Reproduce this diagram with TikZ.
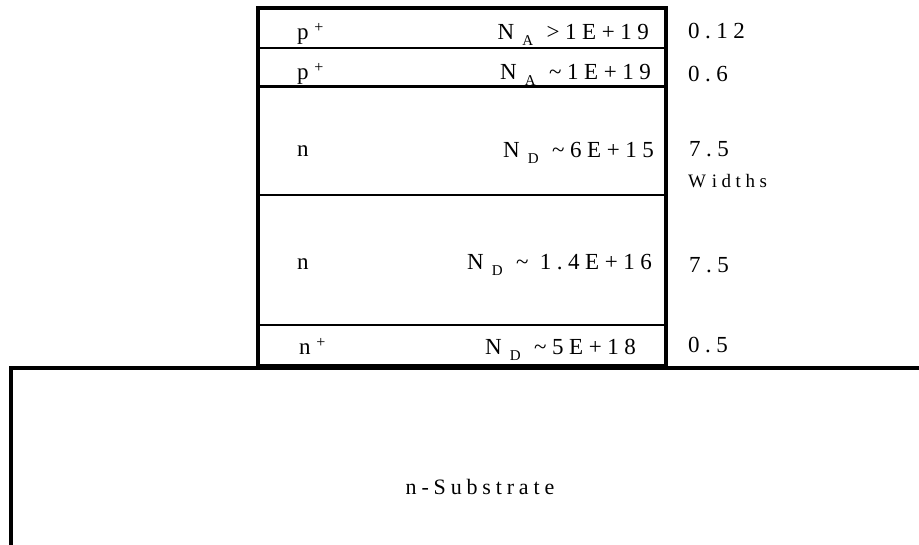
\documentclass[tikz,border=0pt]{standalone}
\usepackage{fontspec}
\setmainfont{Liberation Serif}[LetterSpace=24]
% subscript set lower and smaller, separated from its base letter
\newcommand\dsub[1]{\hspace{0.35em}\raisebox{-0.5ex}{\fontsize{15}{15}\selectfont #1}\hspace{0.1em}}
% raised plus sign of p+ / n+
\newcommand\dplus{\hspace{0.25em}\raisebox{0.7ex}{\fontsize{16}{16}\selectfont +}}
\newcommand\tl{\textasciitilde}
\tikzset{
  lbl/.style={font=\fontsize{23}{26}\selectfont, inner sep=0pt},
  outline/.style={line width=3.2pt},
  divider/.style={line width=2.2pt},
}
\begin{document}
\begin{tikzpicture}[x=1pt,y=-1pt]
\useasboundingbox (0,0) rectangle (919,545);

% substrate edge
\draw[outline] (919,368) -- (11,368) -- (11,545);

% epitaxial layer stack
\draw[divider] (258,48) -- (666,48);
\draw[divider] (258,86.5) -- (666,86.5);
\draw[divider] (258,195) -- (666,195);
\draw[divider] (258,325) -- (666,325);
\draw[outline] (258,8) rectangle (666,366);

% layer types
\node[lbl, anchor=base west] (t1) at (297,40)  {p\dplus};
\node[lbl, anchor=base west] (t2) at (297,80)  {p\dplus};
\node[lbl, anchor=base west] (t3) at (297,157) {n};
\node[lbl, anchor=base west] (t4) at (297,270) {n};
\node[lbl, anchor=base west] (t5) at (299,355) {n\dplus};

% doping levels
\node[lbl, anchor=base east] (d1) at (649,40)  {N\dsub{A} >1E+19};
\node[lbl, anchor=base east] (d2) at (651,80)  {N\dsub{A} \tl1E+19};
\node[lbl, anchor=base east] (d3) at (654,158) {N\dsub{D} \tl6E+15};
\node[lbl, anchor=base east] (d4) at (652,270) {N\dsub{D} \tl{} 1.4E+16};
\node[lbl, anchor=base east] (d5) at (636,355) {N\dsub{D} \tl5E+18};

% layer widths
\node[lbl, anchor=base west] (w1) at (688,39)  {0.12};
\node[lbl, anchor=base west] (w2) at (688,82)  {0.6};
\node[lbl, anchor=base west] (w3) at (689,157) {7.5};
\node[lbl, anchor=base west, font=\fontsize{19}{21}\selectfont\addfontfeature{LetterSpace=24}] (wl) at (688,188) {W\hspace{0.3em}idths};
\node[lbl, anchor=base west] (w4) at (689,273) {7.5};
\node[lbl, anchor=base west] (w5) at (688,353) {0.5};

% substrate label
\node[lbl, anchor=base, font=\fontsize{22}{24}\selectfont\addfontfeature{LetterSpace=22}] (sub) at (480,494) {n-Substrate};
\end{tikzpicture}
\end{document}
